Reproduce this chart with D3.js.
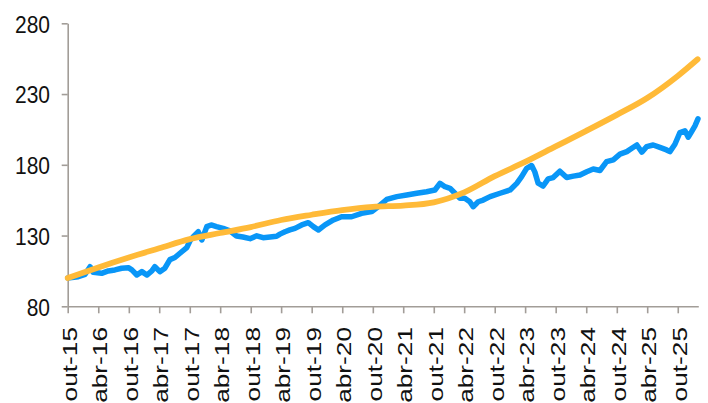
<!DOCTYPE html>
<html>
<head>
<meta charset="utf-8">
<script src="https://cdn.jsdelivr.net/npm/d3@7"></script>
<style>
  html, body { margin: 0; padding: 0; background: #ffffff; }
  svg { display: block; }
  text { font-family: "Liberation Sans", Arial, sans-serif; fill: #111111; }
</style>
</head>
<body>
<svg id="chart" width="708" height="403"></svg>
<script>
// Daily index (blue), sampled along its path
const blueDates = [
  "2015-10-01","2015-12-03","2016-01-13","2016-02-12","2016-03-02","2016-04-21","2016-05-31","2016-07-10",
  "2016-08-19","2016-09-28","2016-10-19","2016-11-18","2016-12-18","2017-01-17","2017-02-16","2017-03-06",
  "2017-04-05","2017-05-05","2017-06-04","2017-07-04","2017-08-03","2017-09-13","2017-10-03","2017-10-22",
  "2017-11-21","2017-12-12","2018-01-11","2018-02-06","2018-03-10","2018-04-19","2018-05-29","2018-07-08",
  "2018-08-15","2018-09-27","2018-11-06","2018-12-14","2019-01-25","2019-03-05","2019-03-25","2019-04-24",
  "2019-05-23","2019-06-23","2019-08-02","2019-09-11","2019-10-11","2019-11-10","2019-12-20","2020-02-08",
  "2020-03-28","2020-05-27","2020-07-26","2020-09-25","2020-11-03","2020-12-23","2021-02-22","2021-04-22",
  "2021-06-21","2021-08-19","2021-10-08","2021-11-07","2021-12-07","2022-01-06","2022-02-05","2022-03-07",
  "2022-04-05","2022-05-05","2022-05-25","2022-06-24","2022-07-24","2022-09-03","2022-11-02","2023-01-01",
  "2023-02-10","2023-03-11","2023-04-10","2023-05-10","2023-05-29","2023-06-18","2023-07-18","2023-08-17",
  "2023-09-16","2023-10-26","2023-12-06","2024-01-15","2024-02-24","2024-04-04","2024-05-13","2024-06-22",
  "2024-08-01","2024-09-10","2024-10-20","2024-11-30","2024-12-30","2025-01-29","2025-02-28","2025-03-29",
  "2025-05-07","2025-06-16","2025-07-26","2025-08-15","2025-09-14","2025-10-14","2025-11-13","2025-12-03",
  "2025-12-23","2026-01-12","2026-01-30"
];
const blueValues = [
  100, 100.9, 102.6, 108, 104, 103.3, 105, 105.7,
  106.9, 107.3, 105.7, 102.1, 104.5, 102.1, 105, 108,
  104.5, 106.9, 113, 114.5, 117.5, 121.5, 126.5, 129.2,
  132.7, 126.9, 136.3, 137.5, 136.3, 135.1, 133.4, 129.7,
  129, 127.8, 129.8, 128.5, 129, 129.5, 131, 132.7,
  134, 135.1, 137.5, 139.1, 136.3, 133.9, 137.5, 141,
  143.3, 143.3, 145.7, 146.9, 150.4, 155.5, 157.5, 158.7,
  159.9, 161, 162.2, 166.9, 164.5, 163.4, 159.9, 156.3,
  156.3, 153.9, 150.4, 153.9, 155.1, 157.5, 159.9, 162.2,
  166.9, 171.6, 177.5, 179.5, 175, 167, 165, 170,
  171, 175.5, 171, 172, 172.8, 175.1, 177, 176,
  182.2, 183.5, 187.5, 189.3, 191.7, 194, 189, 192.8,
  194, 192.3, 190.5, 189.3, 194.5, 202.8, 204, 199.5,
  203.5, 207.5, 212.5
];

// Smooth benchmark index (orange), half-yearly readings
const orangeDates = [
  "2015-10-01","2016-04-01","2016-10-01","2017-04-01","2017-10-01","2018-04-01","2018-10-01",
  "2019-04-01","2019-10-01","2020-04-01","2020-10-01","2021-04-01","2021-10-01","2022-04-01",
  "2022-10-01","2023-04-01","2023-10-01","2024-04-01","2024-10-01","2025-04-01","2025-10-01","2026-01-28"
];
const orangeValues = [
  100, 107.5, 114.5, 121, 127.5, 131.8, 136,
  141, 144.7, 148, 150.3, 151.2, 153.5, 160.5,
  172, 182, 193, 204, 215.3, 227.2, 242.8, 254.6
];

// Axis ticks
const yTicks = [80, 130, 180, 230, 280];
const xTickDates = [
  "2015-10-01","2016-04-01","2016-10-01","2017-04-01","2017-10-01","2018-04-01","2018-10-01",
  "2019-04-01","2019-10-01","2020-04-01","2020-10-01","2021-04-01","2021-10-01","2022-04-01",
  "2022-10-01","2023-04-01","2023-10-01","2024-04-01","2024-10-01","2025-04-01","2025-10-01"
];
const xTickLabels = [
  "out-15","abr-16","out-16","abr-17","out-17","abr-18","out-18",
  "abr-19","out-19","abr-20","out-20","abr-21","out-21","abr-22",
  "out-22","abr-23","out-23","abr-24","out-24","abr-25","out-25"
];

const parse = d3.utcParse("%Y-%m-%d");
const blue = blueDates.map((d, i) => ({ date: parse(d), value: blueValues[i] }));
const orange = orangeDates.map((d, i) => ({ date: parse(d), value: orangeValues[i] }));
const ticks = xTickDates.map(parse);

const plot = { left: 67.7, right: 698.3, top: 23.3, bottom: 306.3 };

const x = d3.scaleUtc()
  .domain([parse("2015-10-01"), parse("2026-02-01")])
  .range([plot.left, plot.right]);
const y = d3.scaleLinear()
  .domain([80, 280])
  .range([plot.bottom, plot.top]);

const svg = d3.select("#chart");
const axisColor = "#a29d98";

// Y axis
const yAxis = svg.append("g")
  .attr("transform", `translate(${plot.left},0)`)
  .call(d3.axisLeft(y).tickValues(yTicks).tickSize(6).tickSizeOuter(0).tickFormat(""));
yAxis.select(".domain").attr("stroke", axisColor).attr("stroke-width", 1.6);
yAxis.selectAll(".tick line").attr("stroke", axisColor).attr("stroke-width", 1.6);

svg.append("g").selectAll("text")
  .data(yTicks)
  .join("text")
  .attr("transform", d => `translate(50,${y(d)}) scale(1,1.12)`)
  .attr("text-anchor", "end")
  .attr("dy", "0.4em")
  .style("font-size", "21px")
  .text(d => d);

// X axis
const xAxis = svg.append("g")
  .attr("transform", `translate(0,${plot.bottom})`)
  .call(d3.axisBottom(x).tickValues(ticks).tickSize(7).tickFormat("").tickSizeOuter(0));
xAxis.select(".domain").attr("stroke", axisColor).attr("stroke-width", 1.6);
xAxis.selectAll(".tick line").attr("stroke", axisColor).attr("stroke-width", 1.6);

svg.append("g").selectAll("text")
  .data(ticks)
  .join("text")
  .attr("transform", d => `translate(${x(d) + 9},327) scale(1,1.25) rotate(-90)`)
  .attr("text-anchor", "end")
  .style("font-size", "21px")
  .text((d, i) => xTickLabels[i]);

// Series lines
const blueLine = d3.line()
  .x(d => x(d.date))
  .y(d => y(d.value))
  .curve(d3.curveLinear);
const orangeLine = d3.line()
  .x(d => x(d.date))
  .y(d => y(d.value))
  .curve(d3.curveMonotoneX);

svg.append("path")
  .datum(blue)
  .attr("fill", "none")
  .attr("stroke", "#0996f7")
  .attr("stroke-width", 5.5)
  .attr("stroke-linejoin", "round")
  .attr("stroke-linecap", "round")
  .attr("d", blueLine);

svg.append("path")
  .datum(orange)
  .attr("fill", "none")
  .attr("stroke", "#ffba38")
  .attr("stroke-width", 5.8)
  .attr("stroke-linejoin", "round")
  .attr("stroke-linecap", "round")
  .attr("d", orangeLine);
</script>
</body>
</html>
